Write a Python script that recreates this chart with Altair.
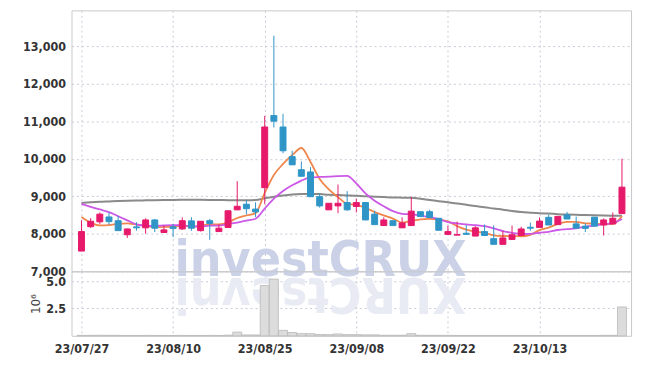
import json
import altair as alt
import pandas as pd

DATES = ["23/07/27", "23/07/28", "23/07/31", "23/08/01", "23/08/02", "23/08/03", "23/08/04", "23/08/07",
         "23/08/08", "23/08/09", "23/08/10", "23/08/11", "23/08/14", "23/08/16", "23/08/17", "23/08/18",
         "23/08/21", "23/08/22", "23/08/23", "23/08/24", "23/08/25", "23/08/28", "23/08/29", "23/08/30",
         "23/08/31", "23/09/01", "23/09/04", "23/09/05", "23/09/06", "23/09/07", "23/09/08", "23/09/11",
         "23/09/12", "23/09/13", "23/09/14", "23/09/15", "23/09/18", "23/09/19", "23/09/20", "23/09/21",
         "23/09/22", "23/09/25", "23/09/26", "23/09/27", "23/10/04", "23/10/05", "23/10/06", "23/10/10",
         "23/10/11", "23/10/12", "23/10/13", "23/10/16", "23/10/17", "23/10/18", "23/10/19", "23/10/20",
         "23/10/23", "23/10/24", "23/10/25", "23/10/26"]

OPEN = [7540, 8190, 8320, 8450, 8350, 7975, 8185, 8160, 8370, 8035, 8185, 8130, 8345, 8085, 8350, 8060,
        8170, 8640, 8790, 8660, 9230, 11155, 10850, 10060, 9710, 9650, 8990, 8640, 8745, 8835, 8730, 8835,
        8525, 8220, 8350, 8160, 8220, 8590, 8590, 8415, 7985, 7965, 8015, 7940, 8060, 7870, 7720, 7850,
        7955, 8175, 8170, 8440, 8245, 8505, 8265, 8205, 8445, 8235, 8265, 8540]
CLOSE = [8060, 8335, 8525, 8325, 8085, 8130, 8160, 8370, 8150, 8105, 8145, 8350, 8150, 8335, 8275, 8150,
         8615, 8735, 8670, 8585, 10850, 11005, 10215, 9840, 9535, 8990, 8745, 8815, 8815, 8640, 8835, 8370,
         8245, 8370, 8220, 8290, 8605, 8460, 8435, 8095, 8060, 7980, 7985, 8160, 7955, 7720, 7890, 7975,
         8130, 8150, 8340, 8235, 8465, 8395, 8150, 8145, 8205, 8370, 8415, 9245]
HIGH = [8360, 8420, 8570, 8570, 8480, 8135, 8310, 8415, 8395, 8220, 8265, 8440, 8445, 8340, 8395, 8250,
        8620, 9405, 8905, 8840, 11145, 13285, 11200, 10215, 9930, 9780, 9080, 8815, 9315, 9140, 8940, 8835,
        8615, 8440, 8350, 8440, 8985, 8590, 8640, 8415, 8220, 8325, 8235, 8200, 8250, 8225, 8080, 8220,
        8190, 8300, 8440, 8515, 8470, 8585, 8460, 8275, 8445, 8410, 8570, 10005]
LOW = [7540, 8160, 8265, 8245, 8080, 7890, 8085, 8000, 8045, 8035, 7915, 8105, 8080, 8060, 7840, 8060,
       8170, 8630, 8515, 8450, 8790, 10835, 10150, 9840, 9535, 8990, 8700, 8640, 8550, 8615, 8570, 8370,
       8245, 8220, 8220, 8160, 8210, 8460, 8435, 8095, 7985, 7965, 7985, 7940, 7940, 7720, 7720, 7850,
       7955, 8080, 8170, 8235, 8245, 8395, 8150, 8045, 8205, 7955, 8265, 8540]

MA_SHORT = [8450, 8300, 8225, 8230, 8266, 8280, 8245, 8214, 8179, 8183, 8185, 8224, 8180, 8217, 8251, 8252,
            8305, 8422, 8489, 8551, 9090, 9569, 9865, 10099, 10289, 9918, 9465, 9185, 8980, 8801, 8769, 8694,
            8580, 8491, 8407, 8298, 8345, 8388, 8401, 8377, 8331, 8207, 8112, 8057, 8028, 7960, 7942, 7939,
            7934, 7973, 8098, 8167, 8265, 8318, 8318, 8279, 8272, 8252, 8256, 8475]
MA_MID = [8800, 8720, 8650, 8580, 8470, 8360, 8250, 8215, 8210, 8224, 8233, 8234, 8197, 8198, 8217, 8219,
          8264, 8301, 8353, 8401, 8671, 8937, 9143, 9294, 9420, 9504, 9517, 9525, 9539, 9545, 9344, 9080,
          8883, 8735, 8604, 8534, 8520, 8484, 8446, 8392, 8314, 8276, 8250, 8229, 8203, 8146, 8074, 8026,
          7995, 8001, 8029, 8054, 8102, 8126, 8146, 8188, 8219, 8259, 8287, 8396]
MA_LONG = [8820, 8840, 8855, 8865, 8875, 8882, 8888, 8893, 8898, 8902, 8905, 8907, 8908, 8907, 8905, 8902,
           8898, 8895, 8893, 8900, 8945, 8990, 9025, 9050, 9062, 9065, 9060, 9045, 9035, 9025, 9015, 9000,
           8990, 8980, 8970, 8965, 8960, 8935, 8900, 8870, 8840, 8810, 8775, 8740, 8710, 8675, 8645, 8610,
           8582, 8565, 8550, 8540, 8525, 8515, 8508, 8500, 8495, 8490, 8485, 8480]
VOLUME_M = [0.04, 0.04, 0.05, 0.04, 0.04, 0.03, 0.03, 0.04, 0.03, 0.03, 0.03, 0.04, 0.03, 0.03, 0.04, 0.03,
            0.06, 0.34, 0.08, 0.08, 4.6, 5.19, 0.5, 0.3, 0.2, 0.2, 0.12, 0.11, 0.17, 0.11, 0.11, 0.09,
            0.09, 0.05, 0.05, 0.05, 0.2, 0.05, 0.04, 0.04, 0.04, 0.03, 0.03, 0.03, 0.03, 0.03, 0.03, 0.03,
            0.03, 0.03, 0.03, 0.03, 0.03, 0.03, 0.03, 0.03, 0.03, 0.04, 0.04, 2.64]

TICK_IDX = [0, 10, 20, 30, 40, 50]
PRICE_TICKS = [7000, 8000, 9000, 10000, 11000, 12000, 13000]
VOL_TICKS = [2.5, 5.0]

df = pd.DataFrame({
    "idx": list(range(len(DATES))), "date": DATES,
    "open": OPEN, "close": CLOSE, "high": HIGH, "low": LOW,
    "ma_s": MA_SHORT, "ma_m": MA_MID, "ma_l": MA_LONG, "vol": VOLUME_M,
})

RED = "#e6196b"
BLUE = "#2f95c7"
FONT = "DejaVu Sans Condensed"
W = 564
H_PRICE = 263
H_VOL = 65

x_scale = alt.Scale(domain=[-0.55, 59.45], nice=False, zero=False)
grid_kw = dict(grid=True, gridColor="#c9c9d9", gridDash=[2, 3], gridWidth=1)

x_price = alt.X("idx:Q", scale=x_scale,
                axis=alt.Axis(values=TICK_IDX, labels=False, ticks=False, domain=False, title=None, **grid_kw))
y_scale = alt.Scale(domain=[7000, 13960], nice=False, zero=False)
y_axis = alt.Axis(values=PRICE_TICKS, format=",.0f", title=None, ticks=False, domain=False,
                  labelPadding=6, **grid_kw)

color_cond = alt.condition("datum.close >= datum.open", alt.value(RED), alt.value(BLUE))

wm = alt.Chart(alt.Data(values=[{"t": "investCRUX"}])).mark_text(
    font=FONT, fontWeight="bold", fontSize=50, color="#cbd2e7", align="center", baseline="alphabetic"
).encode(text="t:N", x=alt.value(251), y=alt.value(268))

base = alt.Chart(df)
line_l = base.mark_line(color="#8a8a8a", strokeWidth=2, interpolate="monotone").encode(
    x=x_price, y=alt.Y("ma_l:Q", scale=y_scale, axis=y_axis))
line_s = base.mark_line(color="#f0864c", strokeWidth=1.8, interpolate="monotone").encode(
    x=x_price, y=alt.Y("ma_s:Q", scale=y_scale, axis=y_axis))
line_m = base.mark_line(color="#cc58e6", strokeWidth=1.8, interpolate="monotone").encode(
    x=x_price, y=alt.Y("ma_m:Q", scale=y_scale, axis=y_axis))
wick = base.mark_rule(strokeWidth=1).encode(
    x=x_price, y=alt.Y("low:Q", scale=y_scale, axis=y_axis), y2="high:Q", color=color_cond)
body = base.mark_bar(size=6, strokeWidth=1).encode(
    x=x_price, y=alt.Y("open:Q", scale=y_scale, axis=y_axis), y2="close:Q",
    color=color_cond, stroke=color_cond)

price = alt.layer(wm, line_l, line_s, line_m, wick, body).properties(width=W, height=H_PRICE)

x_vol = alt.X("idx:Q", scale=x_scale,
              axis=alt.Axis(values=TICK_IDX, labelExpr=json.dumps(DATES) + "[datum.value]",
                            ticks=False, domain=False, title=None, labelPadding=7, **grid_kw))
y_vol = alt.Y("vol:Q", scale=alt.Scale(domain=[0, 5.9], nice=False),
              axis=alt.Axis(values=VOL_TICKS, format=".1f", title="10⁶", titleFont="DejaVu Sans",
                            titleFontSize=12, titleFontWeight="normal", titleColor="#444",
                            titlePadding=3, ticks=False, domain=False, labelPadding=6, **grid_kw))

wm2 = alt.Chart(alt.Data(values=[{"t": "XURCtsevni"}])).mark_text(
    font=FONT, fontWeight="bold", fontSize=50, color="#e8ebf3", align="center", baseline="alphabetic",
    angle=180
).encode(text="t:N", x=alt.value(251), y=alt.value(7))

vbars = alt.Chart(df).mark_bar(size=9, color="#dcdcdc", stroke="#b8b8b8", strokeWidth=0.8).encode(
    x=x_vol, y=y_vol)

volume = alt.layer(wm2, vbars).properties(width=W, height=H_VOL)

chart = alt.vconcat(
    price, volume, spacing=0, bounds="flush",
    padding={"left": 14, "top": 0, "right": 5, "bottom": 5},
).configure_view(
    stroke="#c8c8c8"
).configure_axis(
    labelFont=FONT, labelFontSize=12.5, labelFontWeight="bold", labelColor="#333333"
).properties(background="white")

chart.save("out.html", embed_options={"renderer": "svg", "actions": False})
